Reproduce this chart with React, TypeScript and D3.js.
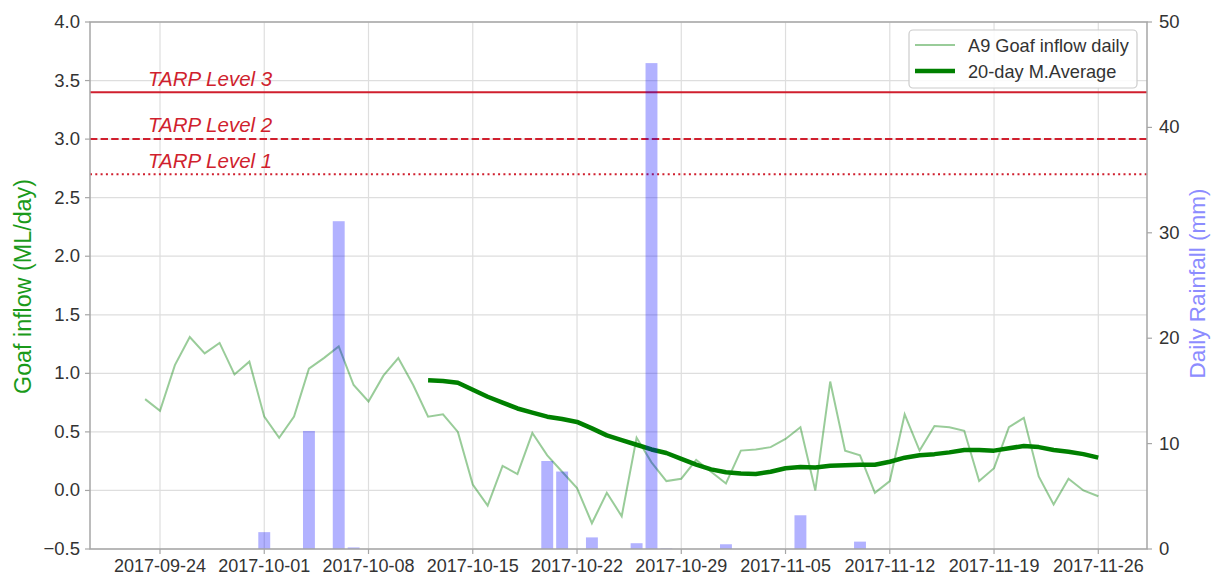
import React from "react";
import * as d3 from "d3";

const inflowStart = "2017-09-23";
const inflowDaily = [
  0.78, 0.68, 1.07, 1.31, 1.17, 1.26, 0.99, 1.10,
  0.63, 0.45, 0.63, 1.04, 1.13, 1.23, 0.90, 0.76, 0.98, 1.13, 0.90, 0.63, 0.65, 0.50,
  0.05, -0.13, 0.21, 0.14, 0.49, 0.30, 0.16, 0.02, -0.28, -0.02, -0.22, 0.45, 0.24, 0.08,
  0.10, 0.26, 0.16,
  0.06, 0.34, 0.35, 0.37, 0.44, 0.54, 0.00, 0.93, 0.34, 0.30, -0.02, 0.08, 0.65, 0.34,
  0.55, 0.54, 0.51, 0.08, 0.19, 0.54, 0.62, 0.12, -0.12, 0.10, 0.00, -0.05,
];

const maStart = "2017-10-12";
const movingAverage = [
  0.94, 0.935, 0.92, 0.86, 0.80, 0.75, 0.70, 0.665, 0.63, 0.61, 0.585, 0.53, 0.47, 0.43,
  0.39, 0.35, 0.32, 0.27, 0.22, 0.18,
  0.155, 0.145, 0.14, 0.16, 0.19, 0.20, 0.195, 0.21, 0.215, 0.22, 0.22, 0.245, 0.28, 0.30,
  0.31, 0.325, 0.345, 0.345, 0.34, 0.36, 0.38, 0.37, 0.345, 0.33, 0.31, 0.28,
];

const rainDates = [
  "2017-10-01", "2017-10-04", "2017-10-06", "2017-10-07", "2017-10-20", "2017-10-21",
  "2017-10-23", "2017-10-26", "2017-10-27", "2017-10-28", "2017-11-01", "2017-11-06", "2017-11-10",
];
const rainValues = [1.6, 11.2, 31.1, 0.15, 8.35, 7.35, 1.1, 0.55, 46.1, 0.05, 0.45, 3.2, 0.7];

const tarpLevels = [
  { name: "TARP Level 3", value: 3.4, dash: "none", labelY: 3.46 },
  { name: "TARP Level 2", value: 3.0, dash: "7.4 3.2", labelY: 3.065 },
  { name: "TARP Level 1", value: 2.7, dash: "2 3.3", labelY: 2.765 },
];

const leftTicks = [-0.5, 0, 0.5, 1.0, 1.5, 2.0, 2.5, 3.0, 3.5, 4.0];
const rightTicks = [0, 10, 20, 30, 40, 50];

const legendLabels = ["A9 Goaf inflow daily", "20-day M.Average"];

const DAY = 86400000;
const parse = (s: string) => {
  const [y, m, d] = s.split("-").map(Number);
  return new Date(Date.UTC(y, m - 1, d));
};
const addDays = (s: string, n: number) => new Date(parse(s).getTime() + n * DAY);

const FONT = "'Liberation Sans', Arial, sans-serif";

export default function App() {
  const W = 1215, H = 578;
  const L = 90, R = 1147, T = 22, B = 549;

  const x = d3
    .scaleUtc()
    .domain([addDays("2017-09-24", -4.7), addDays("2017-11-26", 3.27)])
    .range([L, R]);
  const yL = d3.scaleLinear().domain([-0.5, 4.0]).range([B, T]);
  const yR = d3.scaleLinear().domain([0, 50]).range([B, T]);

  const xTickVals = d3.range(0, 10).map((i) => addDays("2017-09-24", i * 7));
  const fmtDate = d3.utcFormat("%Y-%m-%d");
  const fmtL = (v: number) => d3.format(".1f")(v).replace("-", "\u2212");

  const dailyPts = inflowDaily.map((v, i) => [addDays(inflowStart, i), v] as [Date, number]);
  const maPts = movingAverage.map((v, i) => [addDays(maStart, i), v] as [Date, number]);
  const line = d3
    .line<[Date, number]>()
    .x((d) => x(d[0]))
    .y((d) => yL(d[1]));

  const barW = x(addDays("2017-10-01", 0.8)) - x(parse("2017-10-01"));
  const red = "#d01f2e";
  const tickColor = "#333333";
  const spine = "#a6a6a6";
  const grid = "#dedede";

  return (
    <svg
      width={W}
      height={H}
      style={{ position: "absolute", left: 0, top: 0, background: "#fff" }}
      fontFamily={FONT}
    >
      <rect x={0} y={0} width={W} height={H} fill="#fff" />
      {/* grid */}
      {xTickVals.map((d, i) => (
        <line key={"gx" + i} x1={x(d)} x2={x(d)} y1={T} y2={B} stroke={grid} strokeWidth={1.2} />
      ))}
      {leftTicks.map((v, i) => (
        <line key={"gy" + i} x1={L} x2={R} y1={yL(v)} y2={yL(v)} stroke={grid} strokeWidth={1.2} />
      ))}

      {/* TARP lines */}
      {tarpLevels.map((t, i) => (
        <g key={"tarp" + i}>
          <line
            x1={L}
            x2={R}
            y1={yL(t.value)}
            y2={yL(t.value)}
            stroke={red}
            strokeWidth={2}
            strokeDasharray={t.dash === "none" ? undefined : t.dash}
          />
          <text
            x={148}
            y={yL(t.labelY) + 1}
            fill={red}
            fontSize={20.5}
            fontStyle="italic"
          >
            {t.name}
          </text>
        </g>
      ))}

      {/* inflow lines */}
      <path d={line(dailyPts) || ""} fill="none" stroke="#008000" strokeOpacity={0.4} strokeWidth={2} />
      <path d={line(maPts) || ""} fill="none" stroke="#008000" strokeWidth={4.5} strokeLinejoin="round" />

      {/* rainfall bars */}
      {rainDates.map((d, i) => {
        const c = x(parse(d));
        return (
          <rect
            key={"bar" + i}
            x={c - barW / 2}
            width={barW}
            y={yR(rainValues[i])}
            height={yR(0) - yR(rainValues[i])}
            fill="#0000ff"
            fillOpacity={0.3}
          />
        );
      })}

      {/* spines */}
      <rect x={L} y={T} width={R - L} height={B - T} fill="none" stroke={spine} strokeWidth={1.5} />

      {/* left axis */}
      {leftTicks.map((v, i) => (
        <g key={"lt" + i}>
          <line x1={L - 5} x2={L} y1={yL(v)} y2={yL(v)} stroke={spine} strokeWidth={1.2} />
          <text x={L - 10} y={yL(v) + 6} textAnchor="end" fontSize={18.5} fill={tickColor}>
            {fmtL(v)}
          </text>
        </g>
      ))}
      {/* right axis */}
      {rightTicks.map((v, i) => (
        <g key={"rt" + i}>
          <line x1={R} x2={R + 5} y1={yR(v)} y2={yR(v)} stroke={spine} strokeWidth={1.2} />
          <text x={R + 12} y={yR(v) + 6} textAnchor="start" fontSize={18.5} fill={tickColor}>
            {v}
          </text>
        </g>
      ))}
      {/* x axis */}
      {xTickVals.map((d, i) => (
        <g key={"xt" + i}>
          <line x1={x(d)} x2={x(d)} y1={B} y2={B + 5} stroke={spine} strokeWidth={1.2} />
          <text x={x(d)} y={B + 23} textAnchor="middle" fontSize={18} fill={tickColor}>
            {fmtDate(d)}
          </text>
        </g>
      ))}

      {/* axis labels */}
      <text
        transform={`translate(31,286.5) rotate(-90)`}
        textAnchor="middle"
        fontSize={23.3}
        fill="#1a9a1a"
      >
        Goaf inflow (ML/day)
      </text>
      <text
        transform={`translate(1205,283.5) rotate(-90)`}
        textAnchor="middle"
        fontSize={22.5}
        fill="#8c8cff"
      >
        Daily Rainfall (mm)
      </text>

      {/* legend */}
      <g>
        <rect x={909} y={30} width={228} height={58} rx={4} fill="#fff" fillOpacity={0.85} stroke="#cccccc" strokeWidth={1.2} />
        <line x1={915} x2={955} y1={45} y2={45} stroke="#008000" strokeOpacity={0.4} strokeWidth={2} />
        <line x1={915} x2={955} y1={71} y2={71} stroke="#008000" strokeWidth={4.5} />
        <text x={968} y={51.5} fontSize={18.2} fill={tickColor}>
          {legendLabels[0]}
        </text>
        <text x={968} y={77.5} fontSize={18.2} fill={tickColor}>
          {legendLabels[1]}
        </text>
      </g>
    </svg>
  );
}
